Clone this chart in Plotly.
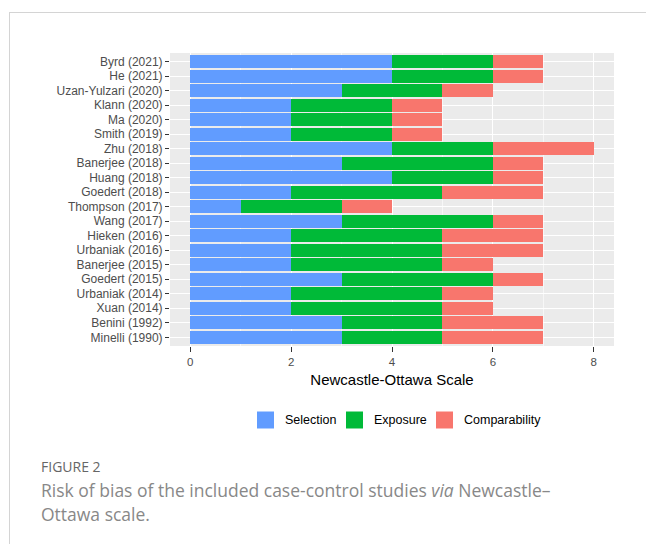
import plotly.graph_objects as go

W, H = 646, 544

# Studies, listed top to bottom
studies = [
    "Byrd (2021)", "He (2021)", "Uzan-Yulzari (2020)", "Klann (2020)", "Ma (2020)",
    "Smith (2019)", "Zhu (2018)", "Banerjee (2018)", "Huang (2018)", "Goedert (2018)",
    "Thompson (2017)", "Wang (2017)", "Hieken (2016)", "Urbaniak (2016)", "Banerjee (2015)",
    "Goedert (2015)", "Urbaniak (2014)", "Xuan (2014)", "Benini (1992)", "Minelli (1990)",
]
selection = [4, 4, 3, 2, 2, 2, 4, 3, 4, 2, 1, 3, 2, 2, 2, 3, 2, 2, 3, 3]
exposure = [2, 2, 2, 2, 2, 2, 2, 3, 2, 3, 2, 3, 3, 3, 3, 3, 3, 3, 2, 2]
comparability = [1, 1, 1, 1, 1, 1, 2, 1, 1, 2, 1, 1, 2, 2, 1, 1, 1, 1, 2, 2]

domains = ["Selection", "Exposure", "Comparability"]
colors = ["#619CFF", "#00BA38", "#F8766D"]
x_ticks = [0, 2, 4, 6, 8]

# panel placement in pixels
px_left, px_right, px_top, px_bottom = 170, 614, 53, 346


def fx(px):
    return px / W


def fy(py):
    return 1 - py / H


fig = go.Figure()
for name, vals, col in zip(domains, [selection, exposure, comparability], colors):
    fig.add_trace(go.Bar(
        y=studies, x=vals, name=name, orientation="h",
        marker=dict(color=col, line=dict(width=0)),
        showlegend=False,
    ))

font_family = "Liberation Sans, Arial, sans-serif"

fig.update_layout(
    width=W, height=H,
    margin=dict(l=0, r=0, t=0, b=0),
    paper_bgcolor="white",
    plot_bgcolor="#EBEBEB",
    barmode="stack",
    bargap=0.1,
    font=dict(family=font_family),
    xaxis=dict(
        domain=[fx(px_left), fx(px_right)],
        range=[-0.4, 8.4],
        tickvals=x_ticks,
        ticktext=[str(v) for v in x_ticks],
        showgrid=True, gridcolor="white", gridwidth=1.1,
        minor=dict(dtick=1, tick0=1, showgrid=True, gridcolor="#F7F7F7", gridwidth=0.6),
        zeroline=False,
        ticks="outside", ticklen=5, tickcolor="#333333", tickwidth=1,
        tickfont=dict(size=11.5, color="#4D4D4D"),
        title=dict(text="Newcastle-Ottawa Scale", font=dict(size=15, color="black"), standoff=7),
        anchor="y",
        showline=False,
    ),
    yaxis=dict(
        domain=[fy(px_bottom), fy(px_top)],
        categoryorder="array",
        categoryarray=studies[::-1],
        range=[-0.6, 19.6],
        showgrid=True, gridcolor="white", gridwidth=1.1,
        zeroline=False,
        ticks="outside", ticklen=4, tickcolor="#333333", tickwidth=1,
        tickfont=dict(size=12, color="#4D4D4D"),
        anchor="x",
        showline=False,
    ),
)

# legend below the panel
key_size = 17
key_y = 420
key_x = [257, 346, 436]
shapes = []
annotations = []
for name, col, kx in zip(domains, colors, key_x):
    shapes.append(dict(
        type="rect", xref="paper", yref="paper",
        x0=fx(kx), x1=fx(kx + key_size),
        y0=fy(key_y + key_size / 2), y1=fy(key_y - key_size / 2),
        fillcolor=col, line=dict(width=0),
    ))
    annotations.append(dict(
        text=name, xref="paper", yref="paper",
        x=fx(kx + key_size + 9), y=fy(key_y),
        xanchor="left", yanchor="middle", showarrow=False,
        font=dict(size=12.5, color="black", family=font_family),
    ))

# outer frame lines
shapes.append(dict(type="line", xref="paper", yref="paper",
                   x0=fx(9), x1=1, y0=fy(12.5), y1=fy(12.5),
                   line=dict(color="#D4D4D4", width=1)))
shapes.append(dict(type="line", xref="paper", yref="paper",
                   x0=fx(9.5), x1=fx(9.5), y0=fy(12), y1=0,
                   line=dict(color="#D4D4D4", width=1)))

# figure caption
cap_font = "Open Sans, Lato, sans-serif"
annotations.append(dict(
    text="FIGURE 2", xref="paper", yref="paper",
    x=fx(39), y=fy(466), xanchor="left", yanchor="middle", showarrow=False,
    font=dict(size=14, color="#666666", family=cap_font),
))
annotations.append(dict(
    text="Risk of bias of the included case-control studies <i>via</i> Newcastle\u2013",
    xref="paper", yref="paper",
    x=fx(39), y=fy(490), xanchor="left", yanchor="middle", showarrow=False,
    font=dict(size=17.5, color="#888888", family=cap_font),
))
annotations.append(dict(
    text="Ottawa scale.",
    xref="paper", yref="paper",
    x=fx(39), y=fy(514), xanchor="left", yanchor="middle", showarrow=False,
    font=dict(size=17.5, color="#888888", family=cap_font),
))

fig.update_layout(shapes=shapes, annotations=annotations)

fig.write_html("out.html")
